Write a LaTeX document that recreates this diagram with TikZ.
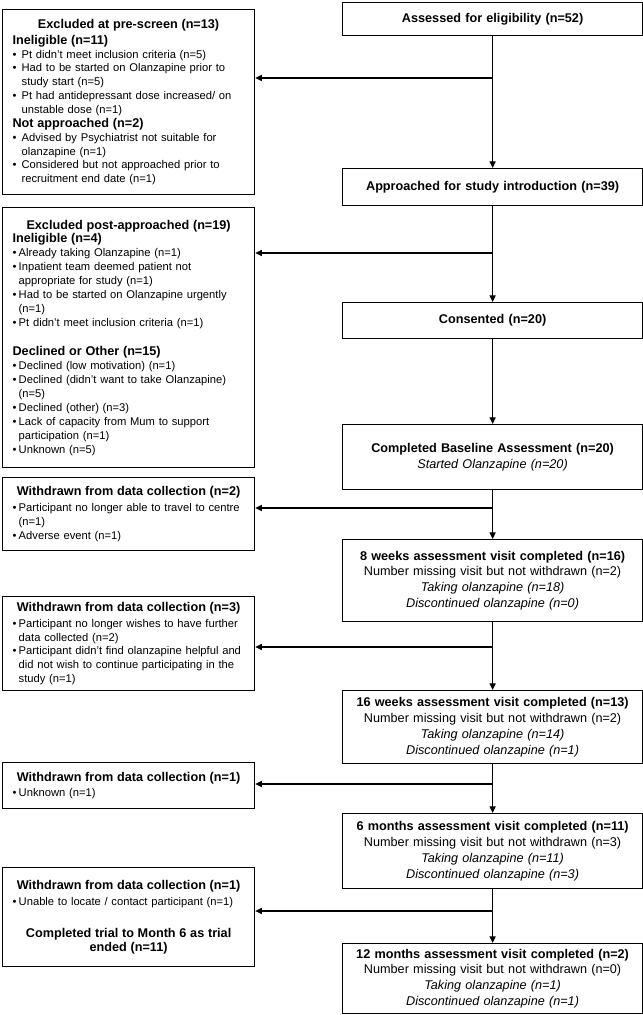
\documentclass[tikz,border=0pt]{standalone}
\usepackage{fontspec}
\setmainfont{Liberation Sans}
\usetikzlibrary{arrows.meta}
\newlength\ltw
\setlength\ltw{174pt}
\newcommand\tb{\fontsize{9.5}{10.4}\selectfont\bfseries}
\newcommand\ttl[1]{\makebox[\ltw][c]{\tb #1}}
\newcommand\bulA[1]{\makebox[6.8pt][l]{\textbullet}#1}
\newcommand\contA[1]{\hspace*{6.8pt}#1}
\newcommand\bulB[1]{\makebox[4.6pt][l]{\textbullet}#1}
\newcommand\contB[1]{\hspace*{4.6pt}#1}
\tikzset{
 lbox/.style={draw, line width=0.9pt, anchor=north west, minimum width=189pt, text width=174pt, inner xsep=7.5pt, inner ysep=0pt, align=left, font=\fontsize{8.4}{10.4}\selectfont},
 rbox/.style={draw, line width=0.9pt, anchor=north west, minimum width=225pt, text width=215pt, inner xsep=5pt, inner ysep=0pt, align=center, font=\fontsize{9.5}{11.9}\selectfont},
 arr/.style={line width=0.8pt, -{Triangle[length=5pt,width=4.6pt]}},
}
\begin{document}
\begin{tikzpicture}[x=0.75pt,y=-0.75pt]
\useasboundingbox (0,0) rectangle (643,1015);
% right column
\node[rbox, minimum height=25.1pt] (assess) at (342,1.5) {\textbf{Assessed for eligibility (n=52)}};
\node[rbox, minimum height=27.75pt] (appr) at (342,168) {\textbf{Approached for study introduction (n=39)}};
\node[rbox, minimum height=27pt] (cons) at (342,302) {\textbf{Consented (n=20)}};
\node[rbox, minimum height=48.75pt] (base) at (342,424) {\textbf{Completed Baseline Assessment (n=20)}\\ \textit{Started Olanzapine (n=20)}};
\node[rbox, minimum height=61.5pt] (wk8) at (342,539) {\textbf{8 weeks assessment visit completed (n=16)}\\ Number missing visit but not withdrawn (n=2)\\ \textit{Taking olanzapine (n=18)}\\ \textit{Discontinued olanzapine (n=0)}};
\node[rbox, minimum height=54.75pt] (wk16) at (342,690) {\textbf{16 weeks assessment visit completed (n=13)}\\ Number missing visit but not withdrawn (n=2)\\ \textit{Taking olanzapine (n=14)}\\ \textit{Discontinued olanzapine (n=1)}};
\node[rbox, minimum height=56.25pt] (m6) at (342,813) {\textbf{6 months assessment visit completed (n=11)}\\ Number missing visit but not withdrawn (n=3)\\ \textit{Taking olanzapine (n=11)}\\ \textit{Discontinued olanzapine (n=3)}};
\node[rbox, minimum height=52.5pt] (m12) at (342,943) {\textbf{12 months assessment visit completed (n=2)}\\ Number missing visit but not withdrawn (n=0)\\ \textit{Taking olanzapine (n=1)}\\ \textit{Discontinued olanzapine (n=1)}};
% left column
\node[lbox, minimum height=138.75pt] (pre) at (2,9) {\ttl{Excluded at pre-screen (n=13)}\\[1.5pt]
{\tb Ineligible (n=11)}\\
\bulA{Pt didn't meet inclusion criteria (n=5)}\\
\bulA{Had to be started on Olanzapine prior to}\\
\contA{study start (n=5)}\\
\bulA{Pt had antidepressant dose increased/ on}\\
\contA{unstable dose (n=1)}\\
{\tb Not approached (n=2)}\\
\bulA{Advised by Psychiatrist not suitable for}\\
\contA{olanzapine (n=1)}\\
\bulA{Considered but not approached prior to}\\
\contA{recruitment end date (n=1)}};
\node[lbox, minimum height=195pt] (post) at (2,207) {\ttl{Excluded post-approached (n=19)}\\
{\tb Ineligible (n=4)}\\
\bulB{Already taking Olanzapine (n=1)}\\
\bulB{Inpatient team deemed patient not}\\
\contB{appropriate for study (n=1)}\\
\bulB{Had to be started on Olanzapine urgently}\\
\contB{(n=1)}\\
\bulB{Pt didn't meet inclusion criteria (n=1)}\\[12pt]
{\tb Declined or Other (n=15)}\\
\bulB{Declined (low motivation) (n=1)}\\
\bulB{Declined (didn't want to take Olanzapine)}\\
\contB{(n=5)}\\
\bulB{Declined (other) (n=3)}\\
\bulB{Lack of capacity from Mum to support}\\
\contB{participation (n=1)}\\
\bulB{Unknown (n=5)}};
\node[lbox, minimum height=54.75pt] (w2) at (2,477) {\ttl{Withdrawn from data collection (n=2)}\\[1.5pt]
\bulB{Participant no longer able to travel to centre}\\
\contB{(n=1)}\\
\bulB{Adverse event (n=1)}};
\node[lbox, minimum height=70.5pt] (w3) at (2,596) {\ttl{Withdrawn from data collection (n=3)}\\[1.5pt]
\bulB{Participant no longer wishes to have further}\\
\contB{data collected (n=2)}\\
\bulB{Participant didn't find olanzapine helpful and}\\
\contB{did not wish to continue participating in the}\\
\contB{study (n=1)}};
\node[lbox, minimum height=34.5pt] (w4) at (2,762) {\ttl{Withdrawn from data collection (n=1)}\\[1.5pt]
\bulB{Unknown (n=1)}};
\node[lbox, minimum height=74.25pt] (w5) at (2,867) {\ttl{Withdrawn from data collection (n=1)}\\[1.5pt]
\bulB{Unable to locate / contact participant (n=1)}\\[14pt]
\ttl{Completed trial to Month 6 as trial}\\
\ttl{ended (n=11)}};
% main flow
\draw[arr] (assess.south) -- (appr.north);
\draw[arr] (appr.south) -- (cons.north);
\draw[arr] (cons.south) -- (base.north);
\draw[arr] (base.south) -- (wk8.north);
\draw[arr] (wk8.south) -- (wk16.north);
\draw[arr] (wk16.south) -- (m6.north);
\draw[arr] (m6.south) -- (m12.north);
% branches
\coordinate (j1) at (492,78);
\coordinate (j2) at (492,253);
\coordinate (j3) at (492,508);
\coordinate (j4) at (492,647);
\coordinate (j5) at (492,784);
\coordinate (j6) at (492,911);
\draw[arr] (j1) -- (j1 -| pre.east);
\draw[arr] (j2) -- (j2 -| post.east);
\draw[arr] (j3) -- (j3 -| w2.east);
\draw[arr] (j4) -- (j4 -| w3.east);
\draw[arr] (j5) -- (j5 -| w4.east);
\draw[arr] (j6) -- (j6 -| w5.east);
\end{tikzpicture}
\end{document}
